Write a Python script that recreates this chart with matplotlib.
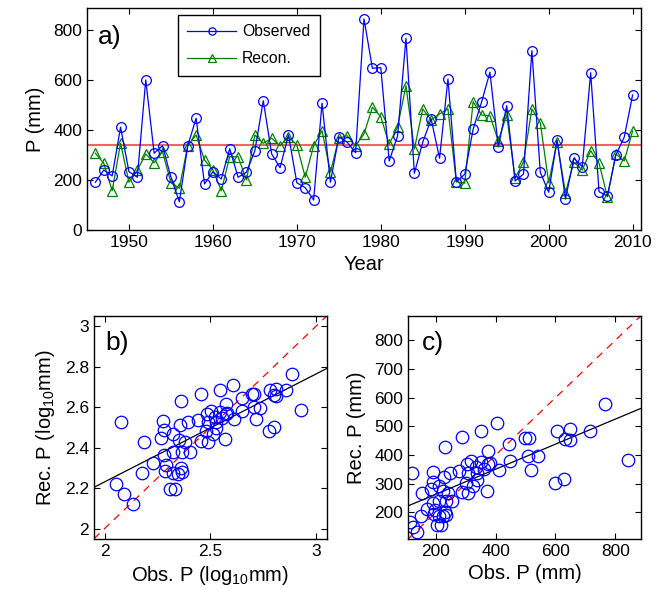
import numpy as np
import matplotlib
matplotlib.use("Agg")
import matplotlib.pyplot as plt
from matplotlib.ticker import FormatStrFormatter

plt.rcParams["font.family"] = ["Liberation Sans", "DejaVu Sans"]
plt.rcParams["mathtext.fontset"] = "custom"
plt.rcParams["mathtext.rm"] = "Liberation Sans"
plt.rcParams["mathtext.it"] = "Liberation Sans:italic"

years = np.arange(1946, 2011)

observed = [191, 240, 216, 411, 233, 211, 600, 307, 337, 211,
            113, 336, 447, 184, 233, 204, 325, 211, 231, 317,
            517, 304, 249, 380, 189, 169, 120, 507, 191, 373,
            351, 309, 844, 647, 649, 276, 376, 767, 227, 351,
            444, 287, 604, 193, 223, 403, 511, 631, 333, 497,
            196, 224, 717, 231, 151, 360, 124, 287, 253, 629,
            153, 136, 300, 371, 540]

recon = [307, 267, 157, 347, 191, 240, 304, 269, 313, 189,
         167, 337, 380, 280, 240, 157, 293, 293, 200, 380,
         347, 367, 337, 373, 340, 211, 337, 397, 231, 367,
         377, 337, 384, 491, 453, 343, 413, 577, 324, 484,
         440, 464, 484, 193, 187, 513, 460, 457, 357, 460,
         207, 273, 484, 429, 189, 353, 149, 271, 240, 317,
         267, 133, 304, 276, 396]

obs = np.array(observed, dtype=float)
rec = np.array(recon, dtype=float)

blue = (0, 0, 1)
green = (0, 0.5, 0)


def style_axes(ax):
    ax.tick_params(direction="in", top=True, right=True, labelsize=12.5,
                   length=4, width=0.8)
    for s in ax.spines.values():
        s.set_linewidth(1.0)


fig = plt.figure(figsize=(6.62, 5.90), dpi=100)

# a) time series
ax1 = fig.add_axes([0.1314, 0.6102, 0.8369, 0.3763])
ax1.axhline(obs.mean(), color="#f26464", lw=1.5, zorder=1)
ax1.plot(years, obs, "-o", color=blue, mfc="none", ms=7, lw=0.9,
         mew=0.9, label="Observed", zorder=3)
ax1.plot(years, rec, "-^", color=green, mfc="none", ms=7.5, lw=0.9,
         mew=0.9, label="Recon.", zorder=2)
ax1.set_xlim(1945, 2011)
ax1.set_ylim(0, 888)
ax1.set_xticks(np.arange(1950, 2011, 10))
ax1.set_yticks(np.arange(0, 801, 200))
ax1.set_xlabel("Year", fontsize=14.5, labelpad=4)
ax1.set_ylabel("P (mm)", fontsize=14.5, labelpad=6)
ax1.text(0.02, 0.87, "a)", transform=ax1.transAxes, fontsize=19,
         va="center", ha="left")
leg = ax1.legend(loc="upper left", bbox_to_anchor=(0.164, 0.968),
                 fontsize=11.3, fancybox=False, framealpha=1,
                 edgecolor="black", handlelength=3.1, handletextpad=0.4,
                 borderpad=0.6, labelspacing=0.75, borderaxespad=0,
                 markerscale=0.75)
leg.get_frame().set_linewidth(1.0)
style_axes(ax1)

# b) log scatter
ax2 = fig.add_axes([0.142, 0.0869, 0.3515, 0.3775])
lobs = np.log10(obs)
lrec = np.log10(rec)
lo, hi = 1.95, 3.05
ax2.plot([lo, hi], [lo, hi], "--", color="red", lw=0.9, dashes=(6, 5))
k, b = np.polyfit(lobs, lrec, 1)
xx = np.array([lo, hi])
ax2.plot(xx, k * xx + b, color="black", lw=0.9)
ax2.plot(lobs, lrec, "o", color=blue, mfc="none", ms=9, mew=0.9)
ax2.set_xlim(lo, hi)
ax2.set_ylim(lo, hi)
ax2.set_xticks([2, 2.5, 3])
ax2.set_yticks([2, 2.2, 2.4, 2.6, 2.8, 3])
ax2.xaxis.set_major_formatter(FormatStrFormatter("%g"))
ax2.yaxis.set_major_formatter(FormatStrFormatter("%g"))
ax2.set_xlabel(r"Obs. P (log$_{10}$mm)", fontsize=14.5, labelpad=4)
ax2.set_ylabel(r"Rec. P (log$_{10}$mm)", fontsize=14.5, labelpad=6)
ax2.text(0.047, 0.88, "b)", transform=ax2.transAxes, fontsize=19,
         va="center", ha="left")
style_axes(ax2)

# c) linear scatter
ax3 = fig.add_axes([0.6168, 0.0869, 0.351, 0.3775])
lo, hi = 108, 885
ax3.plot([lo, hi], [lo, hi], "--", color="red", lw=0.9, dashes=(6, 5))
k, b = np.polyfit(obs, rec, 1)
xx = np.array([lo, hi])
ax3.plot(xx, k * xx + b, color="black", lw=0.9)
ax3.plot(obs, rec, "o", color=blue, mfc="none", ms=9, mew=0.9)
ax3.set_xlim(lo, hi)
ax3.set_ylim(lo, hi)
ax3.set_xticks([200, 400, 600, 800])
ax3.set_yticks(np.arange(200, 801, 100))
ax3.set_xlabel("Obs. P (mm)", fontsize=14.5, labelpad=4)
ax3.set_ylabel("Rec. P (mm)", fontsize=14.5, labelpad=6)
ax3.text(0.058, 0.88, "c)", transform=ax3.transAxes, fontsize=19,
         va="center", ha="left")
style_axes(ax3)

fig.savefig("out.png", dpi=100)
